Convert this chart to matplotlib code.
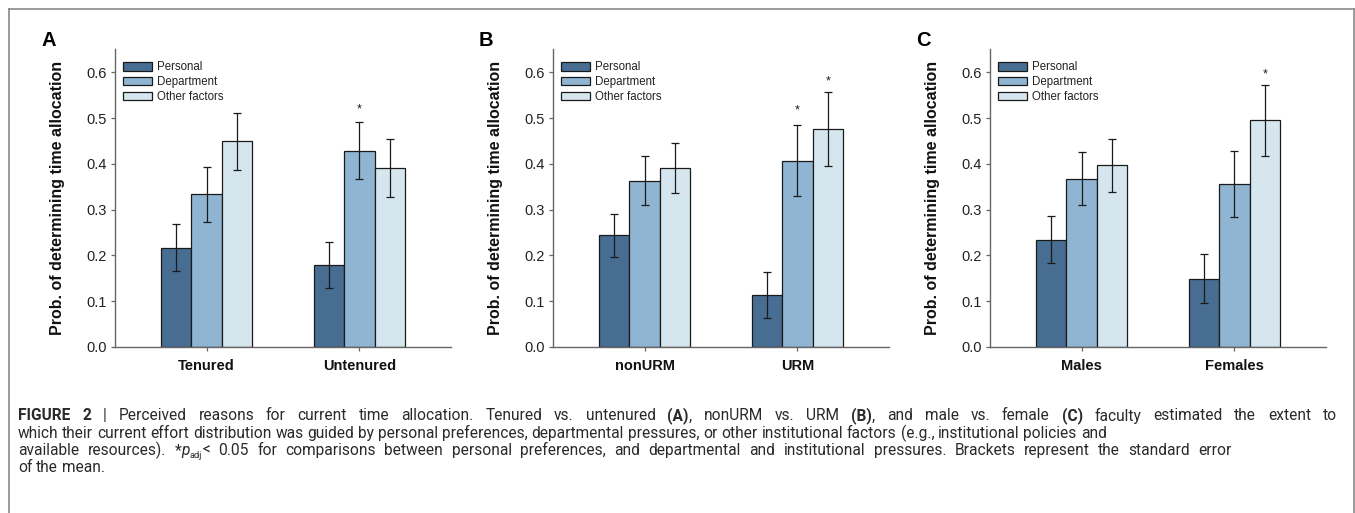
import matplotlib
matplotlib.use("Agg")
import matplotlib.pyplot as plt
from matplotlib.lines import Line2D
import numpy as np

# ---------------- data ----------------
series = ["Personal", "Department", "Other factors"]
panel_letters = ["A", "B", "C"]
groups_A = ["Tenured", "Untenured"]
groups_B = ["nonURM", "URM"]
groups_C = ["Males", "Females"]

# mean probability per series (rows: Personal, Department, Other) x group
means_A = [[0.217, 0.179], [0.333, 0.429], [0.449, 0.391]]
se_A = [[0.051, 0.050], [0.060, 0.063], [0.063, 0.064]]
means_B = [[0.244, 0.114], [0.363, 0.407], [0.391, 0.476]]
se_B = [[0.047, 0.050], [0.053, 0.078], [0.054, 0.080]]
means_C = [[0.234, 0.149], [0.367, 0.356], [0.397, 0.495]]
se_C = [[0.051, 0.053], [0.058, 0.072], [0.058, 0.077]]

# significance stars: (group index, series index, y)
stars_A = [(1, 1, 0.518)]
stars_B = [(1, 1, 0.516), (1, 2, 0.580)]
stars_C = [(1, 2, 0.596)]

yticks = [0.0, 0.1, 0.2, 0.3, 0.4, 0.5, 0.6]
ylabel = "Prob. of determining time allocation"

colors = ["#476d93", "#8fb5d2", "#d6e6ef"]

plt.rcParams["font.family"] = ["Liberation Sans", "DejaVu Sans"]
W, H = 1355, 513
fig = plt.figure(figsize=(W / 100, H / 100), dpi=100)

panels = [
    (groups_A, means_A, se_A, stars_A, 115),
    (groups_B, means_B, se_B, stars_B, 553),
    (groups_C, means_C, se_C, stars_C, 990),
]
ax_w = 336
ax_bottom_px, ax_top_px = 347, 49.3

for letter, (groups, means, ses, stars, left_px) in zip(panel_letters, panels):
    ax = fig.add_axes([left_px / W, 1 - ax_bottom_px / H, ax_w / W,
                       (ax_bottom_px - ax_top_px) / H])
    x = np.arange(len(groups))
    bw = 0.2
    for i, (s, c) in enumerate(zip(series, colors)):
        xs = x + (i - 1) * bw
        ax.bar(xs, means[i], width=bw, color=c, edgecolor="#1a1a1a",
               linewidth=0.9, label=s, zorder=2)
        ax.errorbar(xs, means[i], yerr=ses[i], fmt="none", ecolor="#1a1a1a",
                    elinewidth=0.9, capsize=3.2, capthick=0.9, zorder=3)
    for g, si, yv in stars:
        ax.text(x[g] + (si - 1) * bw, yv, "*", ha="center", va="center",
                fontsize=9, color="#1a1a1a")
    ax.set_xlim(-0.6, 1.6)
    ax.set_ylim(0, 0.65)
    ax.set_yticks(yticks)
    ax.set_yticklabels([f"{t:.1f}" for t in yticks], fontsize=10.5, color="#222222")
    ax.set_xticks(x)
    ax.set_xticklabels(groups, fontsize=10.5, fontweight="bold", color="#111111")
    for sp in ["top", "right"]:
        ax.spines[sp].set_visible(False)
    for sp in ["left", "bottom"]:
        ax.spines[sp].set_color("#666666")
        ax.spines[sp].set_linewidth(1.0)
    ax.tick_params(axis="y", direction="out", length=3, width=0.9,
                   color="#666666", pad=3)
    ax.tick_params(axis="x", direction="out", length=3, width=0.9,
                   color="#666666", pad=6)
    ax.set_ylabel(ylabel, fontsize=11.5, fontweight="bold", color="#111111")
    ax.yaxis.set_label_coords(-50 / ax_w, 0.5)
    leg = ax.legend(loc="upper left", bbox_to_anchor=(0.011, 0.975),
                    frameon=False, fontsize=8.3, handlelength=2.45,
                    handleheight=0.75, handletextpad=0.45, labelspacing=0.25,
                    borderaxespad=0.0)
    for t in leg.get_texts():
        t.set_color("#222222")
    fig.text((left_px - 74) / W, 1 - 40 / H, letter, fontsize=14.5,
             fontweight="bold", ha="left", va="center")

# ---------------- frame ----------------
fc = "#8a8a8a"
fig.add_artist(Line2D([8.5 / W, 8.5 / W], [0, 1 - 8.5 / H], transform=fig.transFigure, color=fc, lw=1.2))
fig.add_artist(Line2D([8.5 / W, 1353.5 / W], [1 - 8.5 / H, 1 - 8.5 / H], transform=fig.transFigure, color=fc, lw=1.2))
fig.add_artist(Line2D([1353.5 / W, 1353.5 / W], [0, 1 - 8.5 / H], transform=fig.transFigure, color=fc, lw=1.2))

# ---------------- caption ----------------
cap_lines = [
    [("FIGURE 2", "bold", "normal", 1.0, 0),
     (" | Perceived reasons for current time allocation. Tenured vs. untenured ", "normal", "normal", 1.0, 0),
     ("(A)", "bold", "normal", 1.0, 0),
     (", nonURM vs. URM ", "normal", "normal", 1.0, 0),
     ("(B)", "bold", "normal", 1.0, 0),
     (", and male vs. female ", "normal", "normal", 1.0, 0),
     ("(C)", "bold", "normal", 1.0, 0),
     (" faculty estimated the extent to", "normal", "normal", 1.0, 0)],
    [("which their current effort distribution was guided by personal preferences, departmental pressures, or other institutional factors (e.g., institutional policies and", "normal", "normal", 1.0, 0)],
    [("available resources). *", "normal", "normal", 1.0, 0),
     ("p", "normal", "italic", 1.0, 0),
     ("adj", "normal", "normal", 0.6, -2.5),
     ("< 0.05 for comparisons between personal preferences, and departmental and institutional pressures. Brackets represent the standard error", "normal", "normal", 1.0, 0)],
    [("of the mean.", "normal", "normal", 1.0, 0)],
]
baselines = [420.5, 438, 455, 472.5]
line_targets = [1337, None, 1232, None]   # right ends of justified lines
cap_x0 = 18
cap_fs = 11.2
cap_font = ["Roboto", "DejaVu Sans"]
renderer = fig.canvas.get_renderer()


def text_w(s, fs):
    t = fig.text(0, 0, s, fontsize=fs, family=cap_font)
    w = t.get_window_extent(renderer=renderer).width
    t.remove()
    return w


space_w = text_w("n n", cap_fs) - text_w("nn", cap_fs)


def place_run_words(runs, by, extra_gap):
    """Place the words of a caption line; returns the x end (px)."""
    xpx = cap_x0
    for txt, wt, st, sc, dy in runs:
        parts = txt.split(" ")
        for k, p in enumerate(parts):
            if k > 0:
                xpx += space_w + extra_gap
            if p == "":
                continue
            t = fig.text(xpx / W, 1 - (by - dy) / H, p, fontsize=cap_fs * sc,
                         fontweight=wt, fontstyle=st, family=cap_font,
                         ha="left", va="baseline", color="#2a2a2a")
            xpx = t.get_window_extent(renderer=renderer).x1
    return xpx


for runs, by, tgt in zip(cap_lines, baselines, line_targets):
    if tgt is None:
        place_run_words(runs, by, 0.0)
        continue
    n_before = len(fig.texts)
    end = place_run_words(runs, by, 0.0)
    for t in list(fig.texts[n_before:]):
        t.remove()
    ngaps = sum(len(txt.split(" ")) - 1 for txt, *_ in runs)
    extra = max(0.0, (tgt - end) / max(ngaps, 1))
    place_run_words(runs, by, extra)

fig.savefig("out.png", dpi=100)
